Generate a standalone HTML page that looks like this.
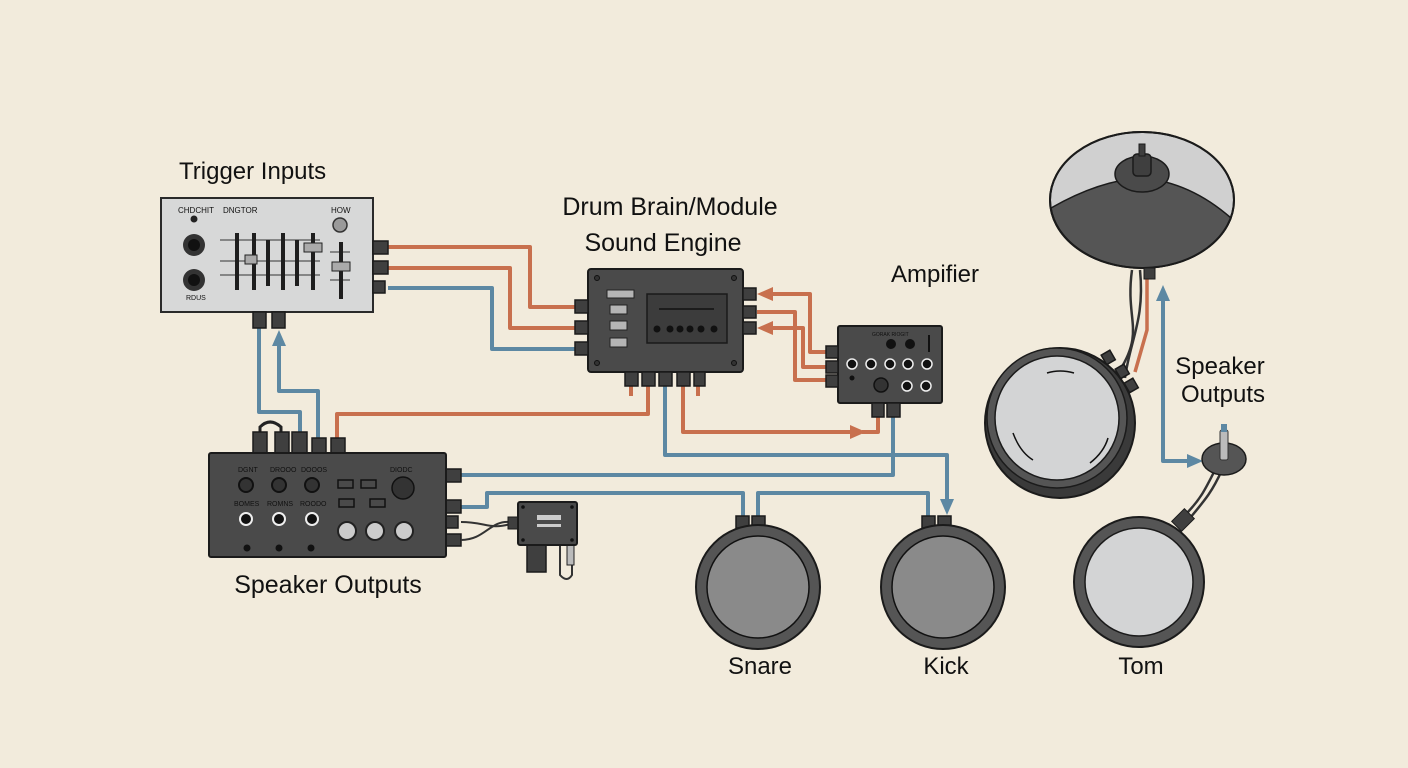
<!DOCTYPE html>
<html><head><meta charset="utf-8"><style>
html,body{margin:0;padding:0;background:#f2ebdc;}
svg{display:block;}
text{font-family:"Liberation Sans",sans-serif;fill:#111;}
</style></head><body>
<svg width="1408" height="768" viewBox="0 0 1408 768" xmlns="http://www.w3.org/2000/svg">
<rect width="1408" height="768" fill="#f2ebdc"/>

<!-- ===== wires ===== -->
<g fill="none" stroke-width="4" stroke-linejoin="round">
<path d="M388,247 H530 V307 H588" stroke="#c8704e"/>
<path d="M388,268 H510 V328 H588" stroke="#c8704e"/>
<path d="M388,288 H492 V349 H588" stroke="#5d88a3"/>
<path d="M259,328 V412 H300 V432" stroke="#5d88a3"/>
<path d="M279,340 V391 H318 V438" stroke="#5d88a3"/>
<path d="M337,438 V414 H648 V386" stroke="#c8704e"/>
<path d="M631,386 V396" stroke="#c8704e"/>
<path d="M698,386 V396" stroke="#c8704e"/>
<path d="M828,352 H810 V294 H770" stroke="#c8704e"/>
<path d="M828,367 H803 V328 H770" stroke="#c8704e"/>
<path d="M828,380 H795 V312 H757" stroke="#c8704e"/>
<path d="M683,386 V432 H850" stroke="#c8704e"/>
<path d="M862,432 H878 V417" stroke="#c8704e"/>
<path d="M665,386 V455 H947 V500" stroke="#5d88a3"/>
<path d="M461,475 H893 V417" stroke="#5d88a3"/>
<path d="M461,507 H487 V493 H743 V516" stroke="#5d88a3"/>
<path d="M758,516 V493 H928 V516" stroke="#5d88a3"/>
<path d="M1147,278 V330 L1135,372" stroke="#c8704e" stroke-width="3.5"/>
<path d="M1163,300 V461 H1195" stroke="#5d88a3"/>
</g>
<g>
<polygon fill="#c8704e" points="757,294 773,287 773,301"/>
<polygon fill="#c8704e" points="757,328 773,321 773,335"/>
<polygon fill="#c8704e" points="866,432 850,425 850,439"/>
<polygon fill="#5d88a3" points="947,515 940,499 954,499"/>
<polygon fill="#5d88a3" points="279,330 272,346 286,346"/>
<polygon fill="#5d88a3" points="1163,285 1156,301 1170,301"/>
<polygon fill="#5d88a3" points="1203,461 1187,454 1187,468"/>
</g>

<!-- ===== Trigger Inputs ===== -->
<text x="179" y="179" font-size="24">Trigger Inputs</text>
<rect x="161" y="198" width="212" height="114" fill="#d7d8d8" stroke="#2a2a2a" stroke-width="2"/>
<text x="178" y="213" font-size="8" fill="#333">CHDCHIT</text>
<text x="223" y="213" font-size="8" fill="#333">DNGTOR</text>
<text x="331" y="213" font-size="8" fill="#333">HOW</text>
<circle cx="194" cy="219" r="3.5" fill="#222"/>
<circle cx="340" cy="225" r="7" fill="#9a9a9a" stroke="#333" stroke-width="1.5"/>
<circle cx="194" cy="245" r="11" fill="#333"/><circle cx="194" cy="245" r="6" fill="#111"/>
<circle cx="194" cy="280" r="11" fill="#333"/><circle cx="194" cy="280" r="6" fill="#111"/>
<text x="186" y="300" font-size="7" fill="#333">RDUS</text>
<g stroke="#333" stroke-width="1">
<line x1="220" y1="240" x2="320" y2="240"/><line x1="220" y1="261" x2="320" y2="261"/><line x1="220" y1="275" x2="320" y2="275"/>
<line x1="330" y1="252" x2="350" y2="252"/><line x1="330" y1="280" x2="350" y2="280"/>
</g>
<g fill="#1e1e1e">
<rect x="235" y="233" width="4" height="57"/><rect x="252" y="233" width="4" height="57"/><rect x="266" y="240" width="4" height="46"/>
<rect x="281" y="233" width="4" height="57"/><rect x="295" y="240" width="4" height="46"/><rect x="311" y="233" width="4" height="57"/>
<rect x="339" y="242" width="4" height="57"/>
</g>
<rect x="245" y="255" width="12" height="9" fill="#aaa" stroke="#222"/>
<rect x="304" y="243" width="18" height="9" fill="#aaa" stroke="#222"/>
<rect x="332" y="262" width="18" height="9" fill="#aaa" stroke="#222"/>
<g fill="#3f3f3f" stroke="#1b1b1b" stroke-width="1.5">
<rect x="373" y="241" width="15" height="13"/><rect x="373" y="261" width="15" height="13"/><rect x="373" y="281" width="12" height="12"/>
<rect x="253" y="312" width="13" height="16"/><rect x="272" y="312" width="13" height="16"/>
</g>

<!-- ===== Drum Brain ===== -->
<text x="670" y="215" font-size="25" text-anchor="middle">Drum Brain/Module</text>
<text x="663" y="251" font-size="25" text-anchor="middle">Sound Engine</text>
<rect x="588" y="269" width="155" height="103" rx="3" fill="#4a4a4a" stroke="#1b1b1b" stroke-width="2"/>
<g fill="#333" stroke="#111"><circle cx="597" cy="278" r="2.5"/><circle cx="734" cy="278" r="2.5"/><circle cx="597" cy="363" r="2.5"/><circle cx="734" cy="363" r="2.5"/></g>
<g fill="#b5b5b5" stroke="#222" stroke-width="1">
<rect x="607" y="290" width="27" height="8"/><rect x="610" y="305" width="17" height="9"/><rect x="610" y="321" width="17" height="9"/><rect x="610" y="338" width="17" height="9"/>
</g>
<rect x="647" y="294" width="80" height="49" fill="#3c3c3c" stroke="#1a1a1a" stroke-width="1.5"/>
<line x1="659" y1="309" x2="714" y2="309" stroke="#111" stroke-width="1.5"/>
<g fill="#111"><circle cx="657" cy="329" r="3.5"/><circle cx="670" cy="329" r="3.5"/><circle cx="680" cy="329" r="3.5"/><circle cx="690" cy="329" r="3.5"/><circle cx="701" cy="329" r="3.5"/><circle cx="714" cy="329" r="3.5"/></g>
<g fill="#3f3f3f" stroke="#1b1b1b" stroke-width="1.5">
<rect x="575" y="300" width="13" height="13"/><rect x="575" y="321" width="13" height="13"/><rect x="575" y="342" width="13" height="13"/>
<rect x="743" y="288" width="13" height="12"/><rect x="743" y="306" width="13" height="12"/><rect x="743" y="322" width="13" height="12"/>
<rect x="625" y="372" width="13" height="14"/><rect x="642" y="372" width="13" height="14"/><rect x="659" y="372" width="13" height="14"/><rect x="677" y="372" width="13" height="14"/><rect x="694" y="372" width="11" height="14"/>
</g>

<!-- ===== Amplifier ===== -->
<text x="935" y="282" font-size="24" text-anchor="middle">Ampifier</text>
<rect x="838" y="326" width="104" height="77" rx="2" fill="#4a4a4a" stroke="#1b1b1b" stroke-width="2"/>
<text x="872" y="336" font-size="5" fill="#ddd">GORAK RIOGIT</text>
<g fill="#111"><circle cx="891" cy="344" r="5"/><circle cx="910" cy="344" r="5"/><rect x="928" y="335" width="2" height="17"/></g>
<g fill="#111" stroke="#eee" stroke-width="1.5">
<circle cx="852" cy="364" r="5"/><circle cx="871" cy="364" r="5"/><circle cx="890" cy="364" r="5"/><circle cx="908" cy="364" r="5"/><circle cx="927" cy="364" r="5"/>
<circle cx="907" cy="386" r="5"/><circle cx="926" cy="386" r="5"/>
</g>
<circle cx="881" cy="385" r="7" fill="#333" stroke="#111" stroke-width="1.5"/>
<circle cx="852" cy="378" r="2.5" fill="#111"/>
<g fill="#3f3f3f" stroke="#1b1b1b" stroke-width="1.5">
<rect x="826" y="346" width="12" height="12"/><rect x="826" y="361" width="12" height="12"/><rect x="826" y="375" width="12" height="12"/>
<rect x="872" y="403" width="12" height="14"/><rect x="887" y="403" width="13" height="14"/>
</g>

<!-- ===== Speaker Outputs box ===== -->
<path d="M260,432 V427 Q270,417 281,427 V432" fill="none" stroke="#222" stroke-width="3"/>
<g fill="#3f3f3f" stroke="#1b1b1b" stroke-width="1.5">
<rect x="253" y="432" width="14" height="21"/><rect x="275" y="432" width="14" height="21"/><rect x="292" y="432" width="15" height="21"/>
<rect x="312" y="438" width="14" height="15"/><rect x="331" y="438" width="14" height="15"/>
<rect x="446" y="469" width="15" height="13"/><rect x="446" y="500" width="15" height="13"/><rect x="446" y="516" width="12" height="12"/><rect x="446" y="534" width="15" height="12"/>
</g>
<rect x="209" y="453" width="237" height="104" rx="2" fill="#4a4a4a" stroke="#1b1b1b" stroke-width="2"/>
<g font-size="7" fill="#ddd">
<text x="238" y="472">DGNT</text><text x="270" y="472">DROOO</text><text x="301" y="472">DOOOS</text><text x="390" y="472">DIODC</text>
<text x="234" y="506">BOMES</text><text x="267" y="506">ROMNS</text><text x="300" y="506">ROODO</text>
</g>
<g fill="#333" stroke="#111" stroke-width="2">
<circle cx="246" cy="485" r="7"/><circle cx="279" cy="485" r="7"/><circle cx="312" cy="485" r="7"/>
</g>
<g fill="#111" stroke="#eee" stroke-width="2">
<circle cx="246" cy="519" r="6"/><circle cx="279" cy="519" r="6"/><circle cx="312" cy="519" r="6"/>
</g>
<circle cx="403" cy="488" r="11" fill="#333" stroke="#111" stroke-width="1.5"/>
<g fill="none" stroke="#111" stroke-width="1.5">
<rect x="338" y="480" width="15" height="8"/><rect x="361" y="480" width="15" height="8"/><rect x="339" y="499" width="15" height="8"/><rect x="370" y="499" width="15" height="8"/>
</g>
<g fill="#ccc" stroke="#222" stroke-width="2">
<circle cx="347" cy="531" r="9"/><circle cx="375" cy="531" r="9"/><circle cx="404" cy="531" r="9"/>
</g>
<g fill="#111"><circle cx="247" cy="548" r="3.5"/><circle cx="279" cy="548" r="3.5"/><circle cx="311" cy="548" r="3.5"/></g>
<text x="328" y="593" font-size="25" text-anchor="middle">Speaker Outputs</text>
<path d="M461,522 C485,522 490,530 510,524" fill="none" stroke="#333" stroke-width="2"/>
<path d="M461,540 C485,540 490,520 510,522" fill="none" stroke="#333" stroke-width="2"/>
<rect x="508" y="517" width="11" height="12" fill="#3f3f3f" stroke="#1b1b1b"/>
<rect x="527" y="545" width="19" height="27" fill="#3f3f3f" stroke="#1b1b1b" stroke-width="1.5"/>
<path d="M560,545 V575 Q567,583 572,575 V565" fill="none" stroke="#333" stroke-width="2"/>
<rect x="567" y="545" width="7" height="20" fill="#bbb" stroke="#222"/>
<rect x="518" y="502" width="59" height="43" rx="2" fill="#4a4a4a" stroke="#1b1b1b" stroke-width="2"/>
<g fill="#111"><circle cx="523" cy="507" r="1.8"/><circle cx="572" cy="507" r="1.8"/><circle cx="523" cy="540" r="1.8"/><circle cx="572" cy="540" r="1.8"/></g>
<rect x="537" y="515" width="24" height="5" fill="#ccc"/><rect x="537" y="524" width="24" height="3" fill="#ccc"/>

<!-- ===== Snare & Kick ===== -->
<g fill="#3f3f3f" stroke="#1b1b1b" stroke-width="1.5">
<rect x="736" y="516" width="13" height="12"/><rect x="752" y="516" width="13" height="12"/>
<rect x="922" y="516" width="13" height="12"/><rect x="938" y="516" width="13" height="12"/>
</g>
<circle cx="758" cy="587" r="62" fill="#555" stroke="#1b1b1b" stroke-width="2"/>
<circle cx="758" cy="587" r="51" fill="#8a8a8a" stroke="#111" stroke-width="1.5"/>
<circle cx="943" cy="587" r="62" fill="#555" stroke="#1b1b1b" stroke-width="2"/>
<circle cx="943" cy="587" r="51" fill="#8a8a8a" stroke="#111" stroke-width="1.5"/>
<text x="760" y="674" font-size="24" text-anchor="middle">Snare</text>
<text x="946" y="674" font-size="24" text-anchor="middle">Kick</text>

<!-- ===== Cymbal ===== -->
<path d="M1132,270 C1125,320 1145,330 1120,370" fill="none" stroke="#333" stroke-width="2.5"/>
<path d="M1140,270 C1145,320 1130,340 1125,378" fill="none" stroke="#333" stroke-width="2.5"/>
<ellipse cx="1142" cy="200" rx="92" ry="68" fill="#d0d0d0" stroke="#1b1b1b" stroke-width="2"/>
<path d="M1051,208 Q1100,180 1142,178 Q1190,182 1231,218 A92,68 0 0 1 1051,208 Z" fill="#555" stroke="#1b1b1b" stroke-width="1.5"/>
<ellipse cx="1142" cy="200" rx="92" ry="68" fill="none" stroke="#1b1b1b" stroke-width="2"/>
<ellipse cx="1142" cy="174" rx="27" ry="18" fill="#4a4a4a" stroke="#1b1b1b" stroke-width="1.5"/>
<rect x="1133" y="154" width="18" height="22" rx="4" fill="#3f3f3f" stroke="#1b1b1b" stroke-width="1.5"/>
<rect x="1139" y="144" width="6" height="12" fill="#3f3f3f" stroke="#1b1b1b"/>
<rect x="1144" y="268" width="11" height="11" fill="#3f3f3f" stroke="#1b1b1b"/>

<!-- big pad -->
<g fill="#3f3f3f" stroke="#1b1b1b" stroke-width="1.5">
<rect x="1103" y="352" width="10" height="11" transform="rotate(-30 1108 357)"/>
<rect x="1117" y="366" width="10" height="11" transform="rotate(-30 1122 371)"/>
<rect x="1126" y="380" width="10" height="11" transform="rotate(-30 1131 385)"/>
</g>
<circle cx="1060" cy="423" r="75" fill="#3a3a3a" stroke="#1b1b1b" stroke-width="2"/>
<circle cx="1057" cy="418" r="70" fill="#555" stroke="#1b1b1b" stroke-width="1.5"/>
<circle cx="1057" cy="418" r="62" fill="#d3d4d5" stroke="#1b1b1b" stroke-width="1.5"/>
<path d="M1047,373 Q1060,369 1074,373" fill="none" stroke="#111" stroke-width="1.5"/>
<path d="M1013,433 Q1020,452 1033,460" fill="none" stroke="#111" stroke-width="1.5"/>
<path d="M1108,438 Q1104,452 1090,463" fill="none" stroke="#111" stroke-width="1.5"/>

<text x="1220" y="374" font-size="24" text-anchor="middle">Speaker</text>
<text x="1223" y="402" font-size="24" text-anchor="middle">Outputs</text>

<path d="M1215,470 C1205,490 1200,500 1185,515" fill="none" stroke="#333" stroke-width="2.5"/>
<path d="M1222,470 C1212,492 1205,500 1190,518" fill="none" stroke="#333" stroke-width="2.5"/>
<ellipse cx="1224" cy="459" rx="22" ry="16" fill="#555" stroke="#1b1b1b" stroke-width="1.5"/>
<rect x="1220" y="430" width="8" height="30" rx="2" fill="#bbb" stroke="#333"/>
<rect x="1221" y="424" width="6" height="8" fill="#5d88a3"/>
<rect x="1176" y="511" width="14" height="18" fill="#3f3f3f" stroke="#1b1b1b" transform="rotate(45 1183 520)"/>
<circle cx="1139" cy="582" r="65" fill="#555" stroke="#1b1b1b" stroke-width="2"/>
<circle cx="1139" cy="582" r="54" fill="#d3d4d5" stroke="#1b1b1b" stroke-width="1.5"/>
<text x="1141" y="674" font-size="24" text-anchor="middle">Tom</text>
</svg>
</body></html>
